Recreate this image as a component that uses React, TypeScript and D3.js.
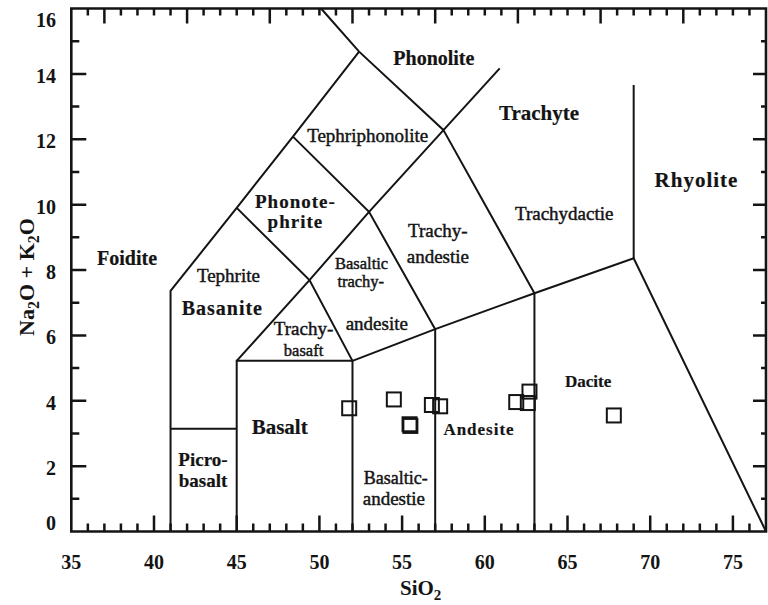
import * as d3 from 'd3'

// sample points (SiO2, Na2O + K2O)
const sio2 = [51.8, 54.5, 55.45, 55.5, 56.8, 57.3, 61.9, 62.6, 62.7, 67.8]
const alkali = [3.77, 4.04, 3.28, 3.23, 3.87, 3.83, 3.96, 3.93, 4.28, 3.55]

const xTicks = [35, 40, 45, 50, 55, 60, 65, 70, 75]
const yTicks = [0, 2, 4, 6, 8, 10, 12, 14, 16]

// field boundaries as drawn, [SiO2, Na2O + K2O]
const foiditeEdge = [[41, 0], [41, 7.36], [45, 9.9], [48.4, 12.08], [52.4, 14.68]]
const phonoliteEdge = [[50.1, 16], [52.4, 14.68], [57.5, 12.28], [60.9, 14.17]]
const tephriteEdge = [[45, 9.9], [49.4, 7.69], [52, 5.22]]
const phonotephriteEdge = [[48.4, 12.08], [53, 9.78], [57, 6.19]]
const trachyEdge = [[45, 5.22], [49.4, 7.69], [53, 9.78], [57.5, 12.28], [63, 7.29]]
const picroTop = [[41, 3.14], [45, 3.14]]
const basaltBox = [[45, 0], [45, 5.22], [52, 5.22], [52, 0]]
const subalkalineEdge = [[52, 5.22], [57, 6.19], [63, 7.29], [69, 8.36], [77, 0]]
const andesiteEdge = [[57, 0], [57, 6.19]]
const daciteEdge = [[63, 0], [63, 7.29]]
const rhyoliteEdge = [[69, 8.36], [69, 13.66]]

const edges = [foiditeEdge, phonoliteEdge, tephriteEdge, phonotephriteEdge, trachyEdge,
    picroTop, basaltBox, subalkalineEdge, andesiteEdge, daciteEdge, rhyoliteEdge]

// field names, one text line each, placed at [SiO2, Na2O + K2O]
const fieldNames = ['Phonolite', 'Trachyte', 'Tephriphonolite', 'Phonote-', 'phrite', 'Trachy-', 'andestie',
    'Trachydactie', 'Rhyolite', 'Foidite', 'Tephrite', 'Basanite', 'Basaltic', 'trachy-', 'andesite',
    'Trachy-', 'basaft', 'Basalt', 'Picro-', 'basalt', 'Basaltic-', 'andestie', 'Andesite', 'Dacite']
const fieldSiO2 = [56.92, 63.28, 52.92, 48.55, 48.55, 57.16, 57.16, 64.8, 72.8, 38.37, 44.5, 44.13,
    52.55, 52.5, 53.47, 49.04, 49.04, 47.6, 42.96, 42.96, 54.62, 54.5, 59.65, 66.25]
const fieldAlkali = [14.48, 12.8, 12.13, 10.1, 9.5, 9.22, 8.43, 9.74, 10.75, 8.37, 7.85, 6.84,
    8.2, 7.66, 6.38, 6.2, 5.56, 3.2, 2.22, 1.58, 1.64, 1.02, 3.14, 4.6]

const boldNames = new Set(['Phonolite', 'Trachyte', 'Phonote-', 'phrite', 'Rhyolite', 'Foidite', 'Basanite',
    'Basalt', 'Picro-', 'basalt', 'Andesite', 'Dacite'])
const nameSize: Record<string, number> = {
    Phonolite: 20, Trachyte: 21, Rhyolite: 21, Basalt: 21, Basanite: 20, Andesite: 17, Dacite: 17,
    'Phonote-': 19, phrite: 19, Basaltic: 16.5, 'trachy-': 16.5, basaft: 16.5, 'Basaltic-': 18,
    'Picro-': 19, basalt: 19
}
const spaced = new Set(['Phonote-', 'phrite', 'Basanite', 'Rhyolite', 'Andesite'])

const ink = '#141414'
const serif = "'Liberation Serif', 'Times New Roman', serif"

const App = () => {
    const width = 768
    const height = 605

    const x = d3.scaleLinear().domain([35, 77]).range([71.3, 766])
    const y = d3.scaleLinear().domain([0, 16]).range([531.5, 8.5])
    const line = d3.line<number[]>().x(d => x(d[0])).y(d => y(d[1]))

    const left = x(35)
    const right = x(77)
    const top = y(16)
    const bottom = y(0)

    // tick marks on all four sides, drawn inward
    const tickPath = d3.path()
    d3.range(36, 77).forEach(t => {
        tickPath.moveTo(x(t), bottom)
        tickPath.lineTo(x(t), bottom - (t % 5 === 0 ? 16 : 8))
        tickPath.moveTo(x(t), top)
        tickPath.lineTo(x(t), top + ((t - 37) % 5 === 0 ? 15 : 7))
    })
    d3.range(1, 16).forEach(t => {
        tickPath.moveTo(left, y(t))
        tickPath.lineTo(left + (t % 2 === 0 ? 15 : 8), y(t))
        tickPath.moveTo(right, y(t))
        tickPath.lineTo(right - (t % 2 === 0 ? 13 : 5), y(t))
    })

    return (
        <svg width={width} height={height} style={{ position: 'absolute', left: 0, top: 0, background: '#fff' }}
            fontFamily={serif}>
            {/* frame */}
            <path d={`M${left},${bottom}V${top}H${right}V${bottom}Z`} fill="none" stroke={ink} strokeWidth={2.6} />
            <path d={tickPath.toString()} fill="none" stroke={ink} strokeWidth={2.5} />

            {xTicks.map(t => (
                <text key={'xl' + t} x={x(t)} y={569} textAnchor="middle" fontSize={20} fontWeight="bold"
                    fill={ink}>{t}</text>
            ))}
            {yTicks.map(t => (
                <text key={'yl' + t} x={56} y={y(t) + (t === 0 ? -9 : t === 16 ? 11 : 2)} dy="0.35em"
                    textAnchor="end" fontSize={20} fontWeight="bold" fill={ink}>{t}</text>
            ))}

            {/* axis titles */}
            <text x={(left + right) / 2 + 2} y={595} textAnchor="middle" fontSize={21} fontWeight="bold" fill={ink}>
                SiO<tspan fontSize={15} dy={5}>2</tspan>
            </text>
            <text transform={`translate(34,277) rotate(-90)`} textAnchor="middle" fontSize={22} fontWeight="bold" fill={ink}>
                Na<tspan fontSize={16} dy={5}>2</tspan><tspan dy={-5}>O + K</tspan><tspan fontSize={16} dy={5}>2</tspan><tspan dy={-5}>O</tspan>
            </text>

            {/* field boundaries */}
            {edges.map((e, i) => (
                <path key={'e' + i} d={line(e) ?? ''} fill="none" stroke={ink} strokeWidth={2} strokeLinejoin="miter" />
            ))}

            {/* field names */}
            {fieldNames.map((name, i) => {
                const bold = boldNames.has(name)
                return (
                    <text key={'f' + i} x={x(fieldSiO2[i])} y={y(fieldAlkali[i])} dy="0.35em" textAnchor="middle"
                        fontSize={nameSize[name] ?? (bold ? 20 : 19)} fontWeight={bold ? 'bold' : 'normal'}
                        letterSpacing={spaced.has(name) ? 1 : 0}
                        fill={ink} stroke={ink} strokeWidth={bold ? 0.2 : 0.45}>{name}</text>
                )
            })}

            {/* samples */}
            {sio2.map((s, i) => (
                <rect key={'p' + i} x={x(s) - 7} y={y(alkali[i]) - 7} width={14} height={14}
                    fill="none" stroke={ink} strokeWidth={2} />
            ))}
        </svg>
    )
}

export default App
